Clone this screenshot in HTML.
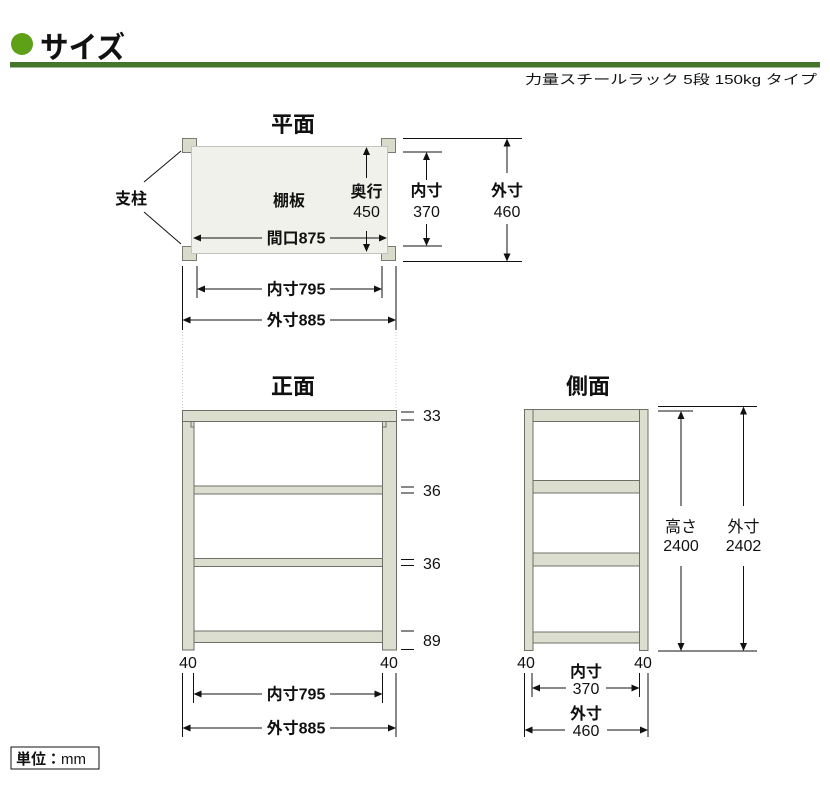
<!DOCTYPE html>
<html><head><meta charset="utf-8">
<style>
html,body{margin:0;padding:0;background:#fff;}
svg{display:block;}
text{font-family:"Liberation Sans","Noto Sans CJK JP",sans-serif;fill:#111;}
.b{font-weight:bold;}
.t{font-size:22px;font-weight:bold;}
.l{font-size:16px;}
.ln{stroke:#111;stroke-width:1;fill:none;}
.ah{fill:#111;}
.post{fill:#d9dccb;stroke:#7a7a72;stroke-width:1;}
.board{fill:#f1f1eb;stroke:#c4c4bc;stroke-width:1;}
.fr{fill:#dcdfcf;stroke:#6f6f68;stroke-width:1;}
</style></head>
<body>
<svg width="830" height="800" viewBox="0 0 830 800" xmlns="http://www.w3.org/2000/svg">
<!-- header -->
<circle cx="22" cy="44" r="11" fill="#5fa116"/>
<text x="40" y="58" font-size="30" class="b" textLength="85" lengthAdjust="spacingAndGlyphs">サイズ</text>
<rect x="10" y="62" width="810" height="5.5" fill="#43762a"/>
<text x="817" y="84" font-size="13" text-anchor="end" textLength="292" lengthAdjust="spacingAndGlyphs">力量スチールラック 5段 150kg タイプ</text>

<!-- ===== Plan view ===== -->
<text x="293" y="132" class="t" text-anchor="middle">平面</text>
<rect class="post" x="182.5" y="138.5" width="14" height="14"/>
<rect class="post" x="381.5" y="138.5" width="14" height="14"/>
<rect class="post" x="182.5" y="246.5" width="14" height="14"/>
<rect class="post" x="381.5" y="246.5" width="14" height="14"/>
<rect class="board" x="191.5" y="146.5" width="196" height="107"/>
<text x="289" y="206" font-size="16" class="b" text-anchor="middle">棚板</text>
<text x="131" y="204" font-size="16" class="b" text-anchor="middle">支柱</text>
<line class="ln" x1="144" y1="182" x2="181" y2="151"/>
<line class="ln" x1="144" y1="212" x2="181" y2="244"/>
<!-- 間口875 -->
<line class="ln" x1="194" y1="238" x2="262" y2="238"/>
<line class="ln" x1="330" y1="238" x2="386" y2="238"/>
<polygon class="ah" points="193,238 201,234.5 201,241.5"/>
<polygon class="ah" points="387,238 379,234.5 379,241.5"/>
<text x="296" y="243.5" font-size="16" class="b" text-anchor="middle">間口875</text>
<!-- 奥行450 -->
<line class="ln" x1="366.5" y1="149" x2="366.5" y2="178"/>
<polygon class="ah" points="366.5,147 363,155 370,155"/>
<text x="366.5" y="197" class="l b" text-anchor="middle">奥行</text>
<text x="366.5" y="217" class="l" text-anchor="middle">450</text>
<line class="ln" x1="366.5" y1="231" x2="366.5" y2="250"/>
<polygon class="ah" points="366.5,252 363,244 370,244"/>
<!-- right dims -->
<line class="ln" x1="403" y1="138.5" x2="522" y2="138.5"/>
<line class="ln" x1="403" y1="261.5" x2="522" y2="261.5"/>
<line class="ln" x1="403" y1="152" x2="442" y2="152"/>
<line class="ln" x1="403" y1="246" x2="442" y2="246"/>
<line class="ln" x1="426.5" y1="154" x2="426.5" y2="180"/>
<polygon class="ah" points="426.5,152 423,160 430,160"/>
<text x="426.5" y="196" class="l b" text-anchor="middle">内寸</text>
<text x="426.5" y="217" class="l" text-anchor="middle">370</text>
<line class="ln" x1="426.5" y1="224" x2="426.5" y2="244"/>
<polygon class="ah" points="426.5,246 423,238 430,238"/>
<line class="ln" x1="507" y1="140" x2="507" y2="173"/>
<polygon class="ah" points="507,138.5 503.5,146.5 510.5,146.5"/>
<text x="507" y="196" class="l b" text-anchor="middle">外寸</text>
<text x="507" y="217" class="l" text-anchor="middle">460</text>
<line class="ln" x1="507" y1="224" x2="507" y2="259"/>
<polygon class="ah" points="507,261.5 503.5,253.5 510.5,253.5"/>
<!-- extension lines under plan -->
<line class="ln" x1="182.5" y1="266" x2="182.5" y2="330"/>
<line class="ln" x1="396" y1="266" x2="396" y2="330"/>
<line class="ln" x1="197" y1="266" x2="197" y2="298"/>
<line class="ln" x1="382" y1="266" x2="382" y2="298"/>
<line x1="182.5" y1="332" x2="182.5" y2="408" stroke="#c8c8c8" stroke-width="1" stroke-dasharray="1,2"/>
<line x1="396" y1="332" x2="396" y2="408" stroke="#c8c8c8" stroke-width="1" stroke-dasharray="1,2"/>
<!-- 内寸795 -->
<line class="ln" x1="199" y1="289" x2="262" y2="289"/>
<line class="ln" x1="330" y1="289" x2="380" y2="289"/>
<polygon class="ah" points="197,289 205,285.5 205,292.5"/>
<polygon class="ah" points="382,289 374,285.5 374,292.5"/>
<text x="296" y="294.5" font-size="16" class="b" text-anchor="middle">内寸795</text>
<!-- 外寸885 -->
<line class="ln" x1="184" y1="320" x2="262" y2="320"/>
<line class="ln" x1="330" y1="320" x2="394" y2="320"/>
<polygon class="ah" points="182.5,320 190.5,316.5 190.5,323.5"/>
<polygon class="ah" points="396,320 388,316.5 388,323.5"/>
<text x="296" y="325.5" font-size="16" class="b" text-anchor="middle">外寸885</text>

<!-- ===== Front view ===== -->
<text x="293" y="394" class="t" text-anchor="middle">正面</text>
<rect class="fr" x="182.5" y="421" width="11.5" height="229"/>
<rect class="fr" x="382.5" y="421" width="14" height="229"/>
<rect class="fr" x="182.5" y="410.5" width="214" height="11"/>
<polyline class="ln" style="stroke:#6f6f68" points="191,421.5 191,427 194,427"/>
<polyline class="ln" style="stroke:#6f6f68" points="386,421.5 386,427 382.5,427"/>
<rect class="fr" x="194" y="486" width="188.5" height="8"/>
<rect class="fr" x="194" y="558.5" width="188.5" height="8"/>
<rect class="fr" x="194" y="631" width="188.5" height="11.5"/>
<g class="ln">
<line x1="401" y1="412" x2="414" y2="412"/><line x1="401" y1="420" x2="414" y2="420"/>
<line x1="401" y1="487" x2="414" y2="487"/><line x1="401" y1="493" x2="414" y2="493"/>
<line x1="401" y1="559.5" x2="414" y2="559.5"/><line x1="401" y1="565.5" x2="414" y2="565.5"/>
<line x1="401" y1="631" x2="414" y2="631"/><line x1="401" y1="649.5" x2="414" y2="649.5"/>
</g>
<text x="423" y="421" class="l">33</text>
<text x="423" y="496" class="l">36</text>
<text x="423" y="569" class="l">36</text>
<text x="423" y="646" class="l">89</text>
<text x="188" y="668" class="l" text-anchor="middle">40</text>
<text x="389" y="668" class="l" text-anchor="middle">40</text>
<line class="ln" x1="182.5" y1="673" x2="182.5" y2="737"/>
<line class="ln" x1="396" y1="673" x2="396" y2="737"/>
<line class="ln" x1="193.5" y1="673" x2="193.5" y2="703"/>
<line class="ln" x1="382.5" y1="673" x2="382.5" y2="703"/>
<line class="ln" x1="195" y1="694" x2="262" y2="694"/>
<line class="ln" x1="330" y1="694" x2="381" y2="694"/>
<polygon class="ah" points="193.5,694 201.5,690.5 201.5,697.5"/>
<polygon class="ah" points="382.5,694 374.5,690.5 374.5,697.5"/>
<text x="296" y="699.5" font-size="16" class="b" text-anchor="middle">内寸795</text>
<line class="ln" x1="184" y1="728" x2="262" y2="728"/>
<line class="ln" x1="330" y1="728" x2="394" y2="728"/>
<polygon class="ah" points="182.5,728 190.5,724.5 190.5,731.5"/>
<polygon class="ah" points="396,728 388,724.5 388,731.5"/>
<text x="296" y="733.5" font-size="16" class="b" text-anchor="middle">外寸885</text>

<!-- ===== Side view ===== -->
<text x="588" y="394" class="t" text-anchor="middle">側面</text>
<rect class="fr" x="524.5" y="409.5" width="8.5" height="241"/>
<rect class="fr" x="639.5" y="409.5" width="8.5" height="241"/>
<rect class="fr" x="533" y="409.5" width="106.5" height="12"/>
<rect class="fr" x="533" y="480.5" width="106.5" height="12.5"/>
<rect class="fr" x="533" y="553" width="106.5" height="13"/>
<rect class="fr" x="533" y="632" width="106.5" height="11"/>
<line class="ln" x1="658" y1="406.5" x2="757" y2="406.5"/>
<line class="ln" x1="658" y1="411" x2="693" y2="411"/>
<line class="ln" x1="658" y1="651" x2="757" y2="651"/>
<line class="ln" x1="681" y1="413" x2="681" y2="506"/>
<polygon class="ah" points="681,411 677.5,419 684.5,419"/>
<text x="681" y="532" class="l" text-anchor="middle">高さ</text>
<text x="681" y="551" class="l" text-anchor="middle">2400</text>
<line class="ln" x1="681" y1="566" x2="681" y2="649"/>
<polygon class="ah" points="681,651 677.5,643 684.5,643"/>
<line class="ln" x1="743.5" y1="408" x2="743.5" y2="506"/>
<polygon class="ah" points="743.5,406.5 740,414.5 747,414.5"/>
<text x="743.5" y="532" class="l" text-anchor="middle">外寸</text>
<text x="743.5" y="551" class="l" text-anchor="middle">2402</text>
<line class="ln" x1="743.5" y1="566" x2="743.5" y2="649"/>
<polygon class="ah" points="743.5,651 740,643 747,643"/>
<text x="526" y="668" class="l" text-anchor="middle">40</text>
<text x="643" y="668" class="l" text-anchor="middle">40</text>
<line class="ln" x1="524.5" y1="673" x2="524.5" y2="737"/>
<line class="ln" x1="648" y1="673" x2="648" y2="737"/>
<line class="ln" x1="532" y1="673" x2="532" y2="697"/>
<line class="ln" x1="639.5" y1="673" x2="639.5" y2="697"/>
<text x="586" y="677" class="l b" text-anchor="middle">内寸</text>
<line class="ln" x1="534" y1="688" x2="566" y2="688"/>
<line class="ln" x1="606" y1="688" x2="638" y2="688"/>
<polygon class="ah" points="532,688 540,684.5 540,691.5"/>
<polygon class="ah" points="639.5,688 631.5,684.5 631.5,691.5"/>
<text x="586" y="694" class="l" text-anchor="middle">370</text>
<text x="586" y="719" class="l b" text-anchor="middle">外寸</text>
<line class="ln" x1="526" y1="730" x2="565" y2="730"/>
<line class="ln" x1="607" y1="730" x2="646" y2="730"/>
<polygon class="ah" points="524.5,730 532.5,726.5 532.5,733.5"/>
<polygon class="ah" points="648,730 640,726.5 640,733.5"/>
<text x="586" y="736" class="l" text-anchor="middle">460</text>

<!-- unit box -->
<rect x="11" y="747" width="88" height="22" fill="none" stroke="#111" stroke-width="1"/>
<text x="16" y="764" font-size="15"><tspan class="b">単位：</tspan>mm</text>
</svg>
</body></html>
